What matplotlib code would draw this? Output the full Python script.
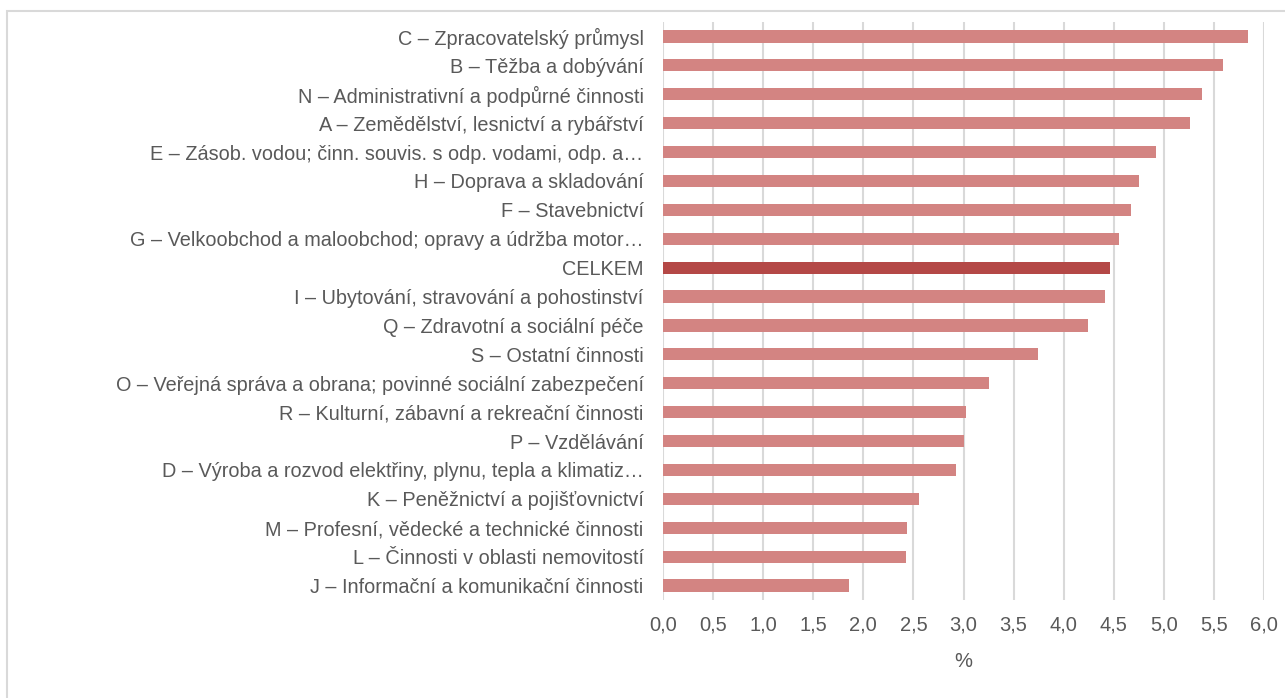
import matplotlib.pyplot as plt
from matplotlib import font_manager
from matplotlib.patches import Rectangle

# font: condensed look like Arial Narrow, if present
names = {f.name for f in font_manager.fontManager.ttflist}
fam = 'Liberation Sans Narrow' if 'Liberation Sans Narrow' in names else 'Liberation Sans'
plt.rcParams['font.family'] = [fam, 'DejaVu Sans']

# data (top -> bottom as in the chart)
categories = [
    'C – Zpracovatelský průmysl',
    'B – Těžba a dobývání',
    'N – Administrativní a podpůrné činnosti',
    'A – Zemědělství, lesnictví a rybářství',
    'E – Zásob. vodou; činn. souvis. s odp. vodami, odp. a…',
    'H – Doprava a skladování',
    'F – Stavebnictví',
    'G – Velkoobchod a maloobchod; opravy a údržba motor…',
    'CELKEM',
    'I – Ubytování, stravování a pohostinství',
    'Q – Zdravotní a sociální péče',
    'S – Ostatní činnosti',
    'O – Veřejná správa a obrana; povinné sociální zabezpečení',
    'R – Kulturní, zábavní a rekreační činnosti',
    'P – Vzdělávání',
    'D – Výroba a rozvod elektřiny, plynu, tepla a klimatiz…',
    'K – Peněžnictví a pojišťovnictví',
    'M – Profesní, vědecké a technické činnosti',
    'L – Činnosti v oblasti nemovitostí',
    'J – Informační a komunikační činnosti',
]
values = [5.84, 5.59, 5.38, 5.26, 4.92, 4.75, 4.67, 4.55, 4.46, 4.41,
          4.24, 3.74, 3.25, 3.02, 3.00, 2.93, 2.56, 2.44, 2.43, 1.86]
xticks = [0.0, 0.5, 1.0, 1.5, 2.0, 2.5, 3.0, 3.5, 4.0, 4.5, 5.0, 5.5, 6.0]
xtick_labels = ['0,0', '0,5', '1,0', '1,5', '2,0', '2,5', '3,0', '3,5',
                '4,0', '4,5', '5,0', '5,5', '6,0']

light = '#D38482'
dark = '#B44846'
txt = '#595959'
colors = [dark if c == 'CELKEM' else light for c in categories]

fig = plt.figure(figsize=(12.85, 6.98), dpi=100)
ax = fig.add_axes([663 / 1285, 1 - 600 / 698, 601 / 1285, 578 / 698])

# chart frame (light gray border, cut at right and bottom)
fig.patches.append(Rectangle((7 / 1285, -0.05), 1.1, 1 - 11 / 698 + 0.05,
                             transform=fig.transFigure, fill=False,
                             edgecolor='#D9D9D9', linewidth=1.5))

y = list(range(len(categories)))
ax.barh(y, values, height=0.42, color=colors, zorder=3)

ax.set_ylim(len(categories) - 0.5, -0.5)
ax.set_xlim(0, 6.0)
ax.set_yticks(y)
ax.set_yticklabels(categories, fontsize=14.3, color=txt)
ax.set_xticks(xticks)
ax.set_xticklabels(xtick_labels, fontsize=14.5, color=txt)
ax.set_xlabel('%', fontsize=14.5, color=txt, labelpad=13)

ax.grid(axis='x', color='#D9D9D9', linewidth=1.5, zorder=0)
for s in ax.spines.values():
    s.set_visible(False)
ax.tick_params(axis='both', length=0)
ax.tick_params(axis='y', pad=14)
ax.tick_params(axis='x', pad=11)

fig.savefig('out.png', dpi=100)
